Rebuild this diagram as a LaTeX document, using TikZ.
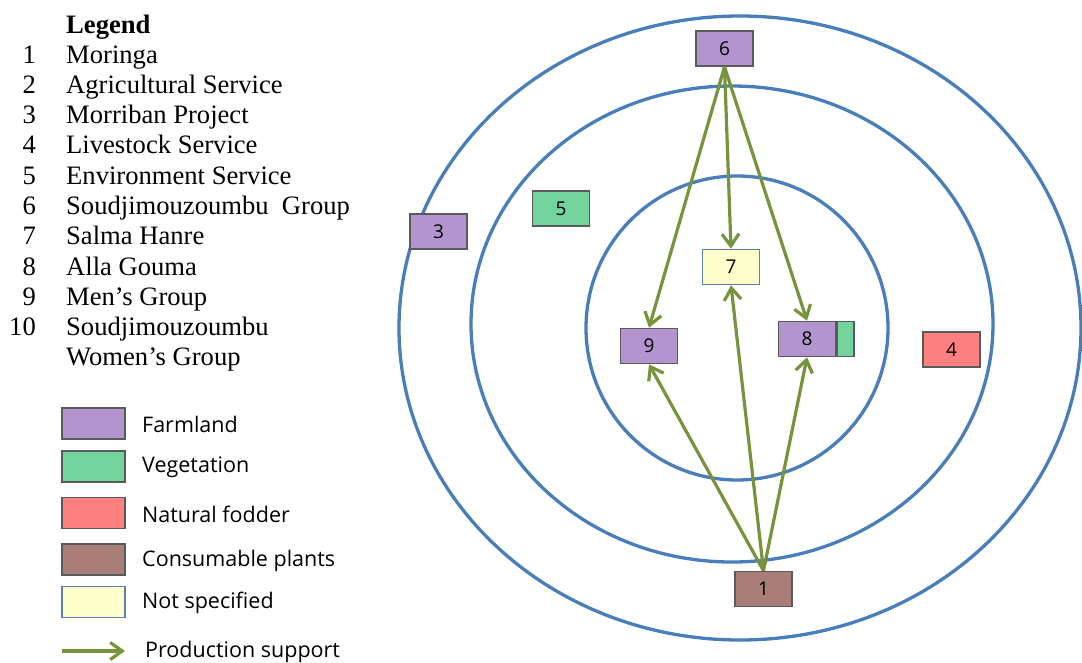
\documentclass[tikz,border=0pt]{standalone}
\usepackage{fontspec}
\setmainfont{Liberation Serif}
\newfontfamily\labelfont{Open Sans}
\usepackage{tikz}
\usetikzlibrary{arrows.meta, positioning}
\usepackage{xcolor}
\definecolor{farmcol}{RGB}{178,148,206}
\definecolor{vegcol}{RGB}{114,211,156}
\definecolor{foddercol}{RGB}{255,128,128}
\definecolor{consumcol}{RGB}{169,125,120}
\definecolor{unspeccol}{RGB}{255,255,204}
\definecolor{unspecedge}{RGB}{96,128,168}
\definecolor{boxedge}{RGB}{90,90,90}
\definecolor{ringcol}{RGB}{74,126,187}
\definecolor{arrowcol}{RGB}{119,147,60}
\tikzstyle{box} = [rectangle, minimum width=57, minimum height=35, inner sep=0pt, draw=boxedge, line width=1.6, font=\labelfont\fontsize{19}{19}\selectfont]
\tikzstyle{farm} = [box, fill=farmcol]
\tikzstyle{veg} = [box, fill=vegcol]
\tikzstyle{fodder} = [box, fill=foddercol]
\tikzstyle{consum} = [box, fill=consumcol]
\tikzstyle{unspec} = [box, fill=unspeccol, draw=unspecedge]
\tikzstyle{swatch} = [minimum width=63, minimum height=31]
\tikzstyle{ring} = [draw=ringcol, line width=3.3]
\tikzstyle{arrow} = [draw=arrowcol, line width=3.2, -{Straight Barb[length=12, width=17, line width=3.2]}]
\tikzstyle{leg} = [font=\fontsize{26.6}{30}\selectfont, inner sep=0pt]
\tikzstyle{legtext} = [font=\labelfont\fontsize{21.5}{21.5}\selectfont, inner sep=0pt, anchor=west]

\begin{document}
\begin{tikzpicture}[x=1pt, y=-1pt]
	\useasboundingbox (0,0) rectangle (1082,662);
	%Legend
	\node[leg, anchor=base west, font=\bfseries\fontsize{26.6}{30}\selectfont] (title) at (66,33) {Legend};
	\node[leg, anchor=base east] (k1) at (36,63) {1};
	\node[leg, anchor=base west] (t1) at (66,63) {Moringa};
	\node[leg, anchor=base east] (k2) at (36,93) {2};
	\node[leg, anchor=base west] (t2) at (66,93) {Agricultural Service};
	\node[leg, anchor=base east] (k3) at (36,123.5) {3};
	\node[leg, anchor=base west] (t3) at (66,123.5) {Morriban Project};
	\node[leg, anchor=base east] (k4) at (36,153.5) {4};
	\node[leg, anchor=base west] (t4) at (66,153.5) {Livestock Service};
	\node[leg, anchor=base east] (k5) at (36,184) {5};
	\node[leg, anchor=base west] (t5) at (66,184) {Environment Service};
	\node[leg, anchor=base east] (k6) at (36,214) {6};
	\node[leg, anchor=base west] (t6) at (66,214) {Soudjimouzoumbu~ Group};
	\node[leg, anchor=base east] (k7) at (36,244.5) {7};
	\node[leg, anchor=base west] (t7) at (66,244.5) {Salma Hanre};
	\node[leg, anchor=base east] (k8) at (36,275) {8};
	\node[leg, anchor=base west] (t8) at (66,275) {Alla Gouma};
	\node[leg, anchor=base east] (k9) at (36,305) {9};
	\node[leg, anchor=base west] (t9) at (66,305) {Men’s Group};
	\node[leg, anchor=base east] (k10) at (36,335.5) {10};
	\node[leg, anchor=base west] (t10) at (66,335.5) {Soudjimouzoumbu};
	\node[leg, anchor=base west] (t10b) at (66,365.5) {Women’s Group};
	%Colour key
	\node[farm, swatch] (sfarm) at (93.5,423.5) {};
	\node[legtext] at (142,424.5) {Farmland};
	\node[veg, swatch] (sveg) at (93.5,466.5) {};
	\node[legtext] at (142,467.5) {Vegetation};
	\node[fodder, swatch] (sfodder) at (93.5,513) {};
	\node[legtext] at (142,514) {Natural fodder};
	\node[consum, swatch] (sconsum) at (93.5,559.5) {};
	\node[legtext] at (142,560.5) {Consumable plants};
	\node[unspec, swatch] (sunspec) at (93.5,602) {};
	\node[legtext] at (142,603) {Not specified};
	\coordinate (pa) at (62,651);
	\coordinate (pb) at (125,651);
	\draw[arrow] (pa) -- (pb);
	\node[legtext] at (145,652) {Production support};
	%Rings
	\draw[ring] (740,328) ellipse [x radius=341, y radius=312];
	\draw[ring] (732,324) ellipse [x radius=261, y radius=238];
	\draw[ring] (737,328) ellipse [x radius=151, y radius=152];
	%Actors
	\node[farm] (n6) at (724.5,48.5) {6};
	\node[farm] (n3) at (438.5,231.5) {3};
	\node[veg] (n5) at (561,208.5) {5};
	\node[fodder] (n4) at (951.5,349.5) {4};
	\node[unspec] (n7) at (731,267) {7};
	\node[farm] (n9) at (649,346) {9};
	\node[farm] (n8) at (807,339) {8};
	\node[veg, minimum width=17, anchor=west] (n8v) at (n8.east) {};
	\node[consum] (n1) at (763.5,589) {1};
	%Production support
	\draw[arrow] (n6.south) -- (n9.north);
	\draw[arrow] (n6.south) -- (n7.north);
	\draw[arrow] (n6.south) -- (n8.north);
	\draw[arrow] (n1.north) -- (n9.south);
	\draw[arrow] (n1.north) -- (n7.south);
	\draw[arrow] (n1.north) -- (n8.south);
\end{tikzpicture}
\end{document}
